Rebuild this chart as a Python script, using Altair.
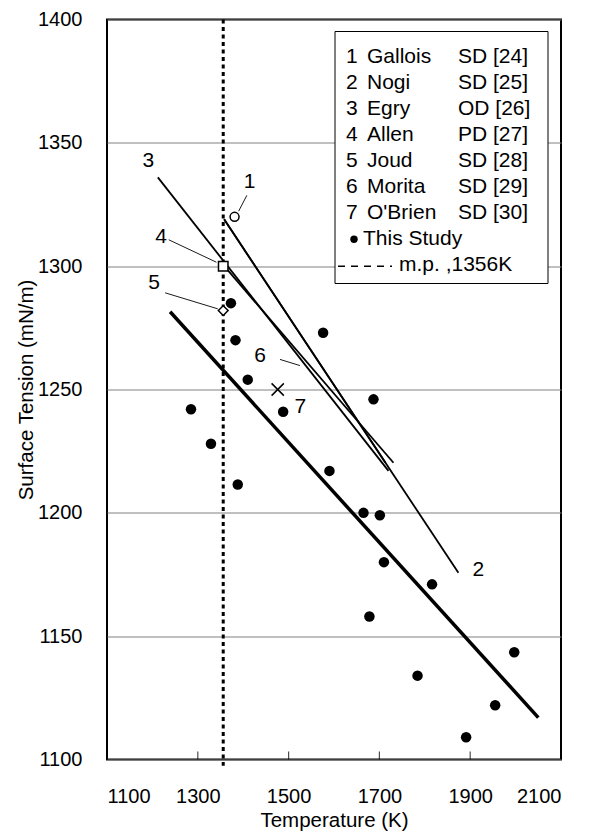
import altair as alt
import pandas as pd

FONT = "Liberation Sans"

# ---- This study: measured points (T in K, surface tension in mN/m)
study_T = [1285, 1329, 1373, 1383, 1388, 1410, 1488, 1576, 1590, 1665,
           1687, 1701, 1710, 1678, 1784, 1816, 1891, 1955, 1997]
study_sigma = [1242, 1228, 1285, 1270, 1211.5, 1254, 1241, 1273, 1217, 1200,
               1246, 1199, 1180, 1158, 1134, 1171, 1109, 1122, 1143.5]

# ---- This study: fitted line
fit_T = [1239, 2050]
fit_sigma = [1281.5, 1117]

# ---- Literature lines (start / end)
lit_id = ["1", "2", "3", "6"]
lit_T_start = [1358, 1358, 1212, 1356]
lit_s_start = [1319, 1319, 1336, 1300.5]
lit_T_end = [1713, 1874, 1720, 1731]
lit_s_end = [1220.4, 1175.7, 1217, 1220.3]

# ---- Literature single values
pt_id = ["1", "4", "5", "7"]
pt_T = [1381, 1356, 1356, 1476]
pt_sigma = [1320, 1300, 1282, 1250]
pt_shape = ["circle", "square", "diamond", "M-1,-1L1,1M1,-1L-1,1"]
pt_size = [80, 90, 95, 150]

# ---- Number labels and their leader lines
lab_text = ["1", "2", "3", "4", "5", "6", "7"]
lab_T = [1414, 1918, 1191, 1219, 1204, 1437, 1526]
lab_sigma = [1334, 1177, 1342.5, 1312, 1293, 1263.5, 1243]

lead_T0 = [1408, 1236, 1228, 1481]
lead_s0 = [1328.7, 1310.7, 1289.2, 1262.2]
lead_T1 = [1390, 1341, 1344, 1525]
lead_s1 = [1322.3, 1301.6, 1282.7, 1259.7]

# ---- Melting point
mp_T = [1356]

# ---- Legend content
leg_num = ["1", "2", "3", "4", "5", "6", "7"]
leg_name = ["Gallois", "Nogi", "Egry", "Allen", "Joud", "Morita", "O'Brien"]
leg_method = ["SD [24]", "SD [25]", "OD [26]", "PD [27]", "SD [28]", "SD [29]", "SD [30]"]
leg_study = "This Study"
leg_mp = "m.p. ,1356K"

x_ticks = [1100, 1300, 1500, 1700, 1900, 2100]
y_ticks = [1100, 1150, 1200, 1250, 1300, 1350, 1400]

W, H = 454, 740

xs = alt.Scale(domain=[1100, 2100], nice=False, zero=False)
ys = alt.Scale(domain=[1100, 1400], nice=False, zero=False)

x_axis = alt.Axis(values=x_ticks, format="d", grid=False, ticks=False, domain=False,
                  labelPadding=27, titlePadding=4, title="Temperature (K)")
y_axis = alt.Axis(values=y_ticks, format="d", grid=True, ticks=False, domain=False,
                  labelPadding=25, titlePadding=1, title="Surface Tension (mN/m)")


def X(field):
    return alt.X(field, type="quantitative", scale=xs, axis=x_axis)


def Y(field):
    return alt.Y(field, type="quantitative", scale=ys, axis=y_axis)


study_df = pd.DataFrame({"T": study_T, "sigma": study_sigma})
fit_df = pd.DataFrame({"T": fit_T, "sigma": fit_sigma})
lit_df = pd.DataFrame({"id": lit_id, "T": lit_T_start, "sigma": lit_s_start,
                       "T2": lit_T_end, "s2": lit_s_end})
pt_df = pd.DataFrame({"id": pt_id, "T": pt_T, "sigma": pt_sigma,
                      "shape": pt_shape, "sz": pt_size})
lab_df = pd.DataFrame({"t": lab_text, "T": lab_T, "sigma": lab_sigma})
lead_df = pd.DataFrame({"T": lead_T0, "sigma": lead_s0, "T2": lead_T1, "s2": lead_s1})
mp_df = pd.DataFrame({"T": mp_T, "sigma": [1400], "s2": [1097.5]})
tick_df = pd.DataFrame({"T": x_ticks[1:-1]})

# melting point dotted line
mp_layer = alt.Chart(mp_df).mark_rule(color="black", strokeWidth=3,
                                      strokeDash=[4, 3.5], clip=False).encode(
    x=X("T"), y=Y("sigma"), y2="s2")

# inward x ticks
tick_layer = alt.Chart(tick_df).mark_tick(orient="vertical", size=8, thickness=1.2,
                                          color="black").encode(
    x=X("T"), y=alt.value(H - 4))

lit_layer = alt.Chart(lit_df).mark_rule(color="black", strokeWidth=1.8).encode(
    x=X("T"), y=Y("sigma"), x2="T2", y2="s2")

lead_layer = alt.Chart(lead_df).mark_rule(color="black", strokeWidth=0.9).encode(
    x=X("T"), y=Y("sigma"), x2="T2", y2="s2")

fit_layer = alt.Chart(fit_df).mark_line(color="black", strokeWidth=3.5).encode(
    x=X("T"), y=Y("sigma"))

study_layer = alt.Chart(study_df).mark_point(filled=True, color="black", size=110,
                                             shape="circle", opacity=1).encode(
    x=X("T"), y=Y("sigma"))

pt_layer = alt.Chart(pt_df).mark_point(filled=False, fill="white", stroke="black",
                                       strokeWidth=1.5, opacity=1).encode(
    x=X("T"), y=Y("sigma"),
    shape=alt.Shape("shape:N", scale=None, legend=None),
    size=alt.Size("sz:Q", scale=None, legend=None))

lab_layer = alt.Chart(lab_df).mark_text(font=FONT, fontSize=21, color="black",
                                        baseline="middle", align="center").encode(
    x=X("T"), y=Y("sigma"), text="t:N")

# ---- custom legend, placed in pixels inside the plot area
row_h = 26.1
row0 = 37
rows_y = [row0 + row_h * i for i in range(9)]
box = alt.Chart(pd.DataFrame({"a": [0]})).mark_rect(
    fill="white", stroke="black", strokeWidth=1).encode(
    x=alt.value(228), x2=alt.value(441), y=alt.value(12), y2=alt.value(264))

txt_kw = dict(font=FONT, fontSize=21, color="black", baseline="middle", align="left")


def leg_text(texts, xpos, ys_):
    df = pd.DataFrame({"t": texts, "yy": ys_})
    return alt.Chart(df).mark_text(**txt_kw).encode(
        x=alt.value(xpos),
        y=alt.Y("yy:Q", scale=None, axis=None),
        text="t:N")


leg_num_l = leg_text(leg_num, 239, rows_y[:7])
leg_name_l = leg_text(leg_name, 260, rows_y[:7])
leg_meth_l = leg_text(leg_method, 351, rows_y[:7])
leg_study_l = leg_text([leg_study], 256, [rows_y[7]])
leg_mp_l = leg_text([leg_mp], 292, [rows_y[8]])

leg_dot = alt.Chart(pd.DataFrame({"yy": [rows_y[7]]})).mark_point(
    filled=True, color="black", size=55, shape="circle", opacity=1).encode(
    x=alt.value(247), y=alt.Y("yy:Q", scale=None, axis=None))
leg_dash = alt.Chart(pd.DataFrame({"yy": [rows_y[8] + 1]})).mark_rule(
    color="black", strokeWidth=1.5, strokeDash=[7, 6]).encode(
    x=alt.value(231), x2=alt.value(285), y=alt.Y("yy:Q", scale=None, axis=None))

chart = alt.layer(
    lit_layer, lead_layer, fit_layer, mp_layer, tick_layer, study_layer, pt_layer,
    lab_layer, box, leg_num_l, leg_name_l, leg_meth_l, leg_study_l, leg_mp_l,
    leg_dot, leg_dash,
).properties(
    width=W, height=H,
    autosize=alt.AutoSizeParams(type="none"),
    padding={"left": 99, "top": 11.5, "right": 28, "bottom": 72},
    background="white",
).configure_view(
    stroke="black", strokeWidth=2
).configure_axis(
    labelFont=FONT, titleFont=FONT, labelFontSize=20, titleFontSize=20.5,
    titleFontWeight="normal", labelColor="black", titleColor="black",
    gridColor="#808080", gridWidth=1, gridOpacity=1,
)

chart.save("out.html", embed_options={"renderer": "svg", "actions": False})
